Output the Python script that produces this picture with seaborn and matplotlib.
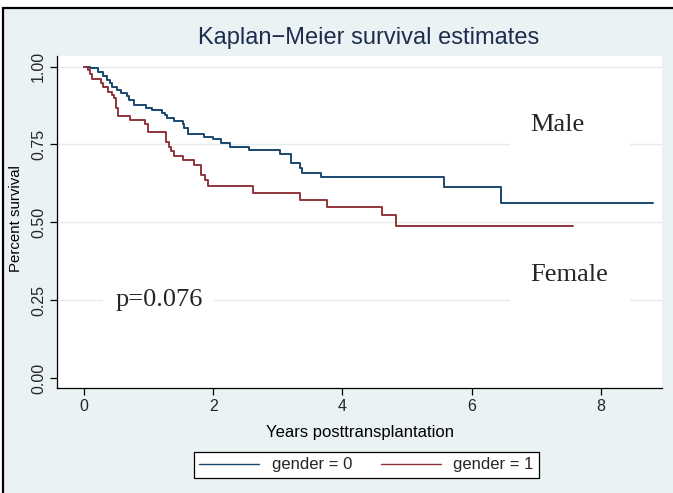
import numpy as np
import pandas as pd
import matplotlib
matplotlib.use("Agg")
import matplotlib.pyplot as plt
import seaborn as sns
from matplotlib.patches import Rectangle
from matplotlib.lines import Line2D

# ---- data ----
male_t = [0, 0.09, 0.22, 0.29, 0.35, 0.40, 0.43, 0.51, 0.58, 0.66,
          0.69, 0.77, 0.96, 1.05, 1.20, 1.25, 1.29, 1.40, 1.54, 1.55,
          1.61, 1.86, 1.99, 2.12, 2.26, 2.55, 3.04, 3.21, 3.34, 3.37,
          3.67, 5.57, 6.46, 8.80]
male_s = [1.0, 0.994, 0.982, 0.970, 0.958, 0.946, 0.934, 0.926, 0.916, 0.905,
          0.893, 0.876, 0.866, 0.861, 0.851, 0.845, 0.834, 0.824, 0.816, 0.802,
          0.784, 0.774, 0.766, 0.754, 0.743, 0.732, 0.719, 0.689, 0.673, 0.659,
          0.644, 0.612, 0.562, 0.562]
female_t = [0, 0.06, 0.09, 0.12, 0.26, 0.30, 0.37, 0.43, 0.47, 0.49,
            0.52, 0.71, 0.94, 0.99, 1.27, 1.32, 1.35, 1.40, 1.53, 1.71,
            1.81, 1.87, 1.92, 2.62, 3.34, 3.76, 4.61, 4.83, 7.57]
female_s = [1.0, 0.990, 0.976, 0.961, 0.947, 0.934, 0.920, 0.910, 0.899, 0.867,
            0.842, 0.830, 0.816, 0.790, 0.759, 0.743, 0.729, 0.714, 0.700, 0.684,
            0.652, 0.635, 0.616, 0.595, 0.573, 0.549, 0.523, 0.489, 0.489]
group_labels = ["gender = 0", "gender = 1"]
x_ticks = [0, 2, 4, 6, 8]
y_ticks = [0.00, 0.25, 0.50, 0.75, 1.00]
y_tick_labels = ["0.00", "0.25", "0.50", "0.75", "1.00"]

df = pd.concat([
    pd.DataFrame({"time": male_t, "surv": male_s, "group": group_labels[0]}),
    pd.DataFrame({"time": female_t, "surv": female_s, "group": group_labels[1]}),
], ignore_index=True)

NAVY = "#1a476f"
MAROON = "#90353b"
BG = "#eaf2f3"

sns.set_theme(style="white")
plt.rcParams['font.family'] = ['Liberation Sans', 'DejaVu Sans']

W, H = 673, 493
fig = plt.figure(figsize=(W / 100, H / 100), dpi=100, facecolor="white")
fig.patches.append(Rectangle((3 / W, -0.1), 1.2, (H - 8) / H + 0.1,
                             transform=fig.transFigure, facecolor=BG,
                             edgecolor="black", linewidth=1.6, zorder=-5))

ax = fig.add_axes([57 / W, 1 - 388 / H, (662 - 57) / W, (388 - 56) / H])
ax.set_zorder(1)
ax.set_facecolor("white")

for v in y_ticks[1:]:
    ax.axhline(v, color="#e4ecee", lw=1.0, zorder=0.5)

sns.lineplot(data=df, x="time", y="surv", hue="group",
             palette=[NAVY, MAROON], estimator=None, sort=True,
             drawstyle="steps-post", linewidth=1.4, legend=False, ax=ax, zorder=3)

ax.set_xlim(-0.418, 8.947)
ax.set_ylim(-0.032, 1.034)

for s in ["top", "right"]:
    ax.spines[s].set_visible(False)
for s in ["left", "bottom"]:
    ax.spines[s].set_color("black")
    ax.spines[s].set_linewidth(0.9)

ax.set_xticks(x_ticks)
ax.set_xticklabels([str(v) for v in x_ticks], fontsize=11.5)
ax.set_yticks(y_ticks)
ax.set_yticklabels(y_tick_labels, fontsize=11.5, rotation=90, va="center")
ax.tick_params(axis="both", direction="out", length=5, width=0.9, color="black",
               bottom=True, left=True, pad=3)

ax.set_xlabel("Years posttransplantation", fontsize=12, color="black")
ax.xaxis.set_label_coords(0.5, -0.135)
ax.xaxis.label.set_va("center")
ax.set_ylabel("Percent survival", fontsize=10.8, color="black")
ax.yaxis.set_label_coords(-0.068, 0.51)
ax.yaxis.label.set_va("center")

# white annotation boxes (cover the grid lines like the reference)
box_kw = dict(facecolor="white", edgecolor="none", zorder=1)
ax.add_patch(Rectangle((6.59, 0.70), 1.86, 0.19, **box_kw))
ax.add_patch(Rectangle((6.59, 0.24), 1.86, 0.19, **box_kw))
ax.add_patch(Rectangle((0.29, 0.17), 1.70, 0.16, **box_kw))

serif = ['Liberation Serif', 'DejaVu Serif']
ax.text(6.90, 0.813, "Male", family=serif, fontsize=19, ha="left", va="center", zorder=2)
ax.text(6.90, 0.331, "Female", family=serif, fontsize=19, ha="left", va="center", zorder=2)
ax.text(0.49, 0.25, "p=0.076", family=serif, fontsize=19, ha="left", va="center", zorder=2)

fig.text(369 / W, 1 - 38 / H, "Kaplan\u2212Meier survival estimates",
         fontsize=17, color="#1e2d4f", ha="center", va="center")

handles = [Line2D([], [], color=NAVY, lw=1.0), Line2D([], [], color=MAROON, lw=1.0)]
leg = fig.legend(handles, group_labels, loc="center",
                 bbox_to_anchor=(366.5 / W, 1 - 465 / H), ncol=2,
                 frameon=True, fancybox=False, fontsize=12,
                 handlelength=3.6, columnspacing=1.7, borderpad=0.35,
                 handletextpad=0.75)
leg.get_frame().set_edgecolor("black")
leg.get_frame().set_facecolor("white")
leg.get_frame().set_linewidth(0.9)
leg.get_frame().set_alpha(1)

fig.savefig("out.png", dpi=100, facecolor=fig.get_facecolor())
